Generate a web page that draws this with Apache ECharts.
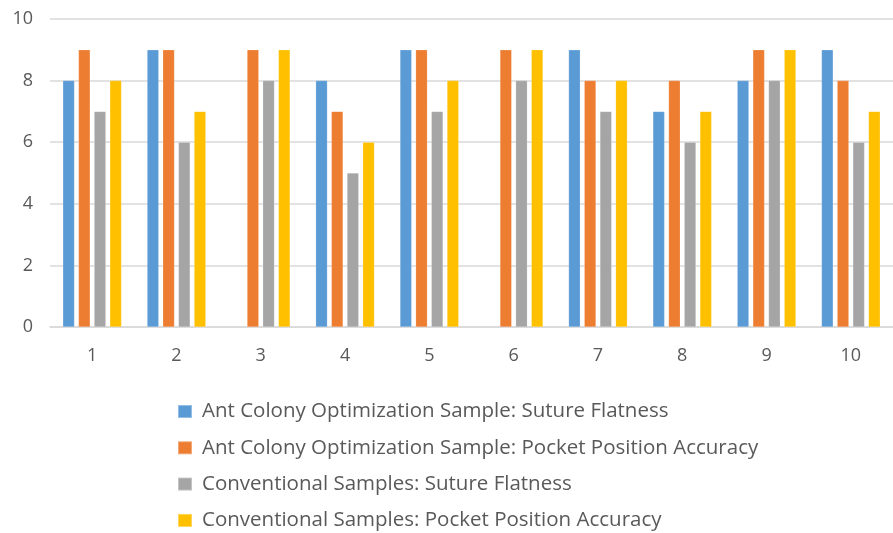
<!DOCTYPE html>
<html>
<head>
<meta charset="utf-8">
<script src="https://cdn.jsdelivr.net/npm/echarts@6/dist/echarts.min.js"></script>
<style>html,body{margin:0;padding:0;background:#fff}#c{width:893px;height:533px}</style>
</head>
<body>
<div id="c"></div>
<script>
var categories = ['1','2','3','4','5','6','7','8','9','10'];
var seriesNames = [
  'Ant Colony Optimization Sample: Suture Flatness',
  'Ant Colony Optimization Sample: Pocket Position Accuracy',
  'Conventional Samples: Suture Flatness',
  'Conventional Samples: Pocket Position Accuracy'
];
var acoFlatness   = [8, 9, null, 8, 9, null, 9, 7, 8, 9];
var acoPocket     = [9, 9, 9, 7, 9, 9, 8, 8, 9, 8];
var convFlatness  = [7, 6, 8, 5, 7, 8, 7, 6, 8, 6];
var convPocket    = [8, 7, 9, 6, 8, 9, 8, 7, 9, 7];
var colors = ['#5B9BD5', '#ED7D31', '#A5A5A5', '#FFC000'];
var allData = [acoFlatness, acoPocket, convFlatness, convPocket];

var font = 'Open Sans';
var chart = echarts.init(document.getElementById('c'));
chart.setOption({
  animation: false,
  color: colors,
  grid: { left: 50, top: 19, bottom: 206, right: -13, containLabel: false },
  xAxis: {
    type: 'category',
    data: categories,
    axisLine: { lineStyle: { color: '#D9D9D9', width: 1.5 } },
    axisTick: { show: false },
    axisLabel: { color: '#595959', fontSize: 18, fontFamily: font, margin: 20 }
  },
  yAxis: {
    type: 'value',
    min: 0, max: 10, interval: 2,
    axisLine: { show: false },
    axisTick: { show: false },
    splitLine: { lineStyle: { color: '#D9D9D9', width: 1.5 } },
    axisLabel: { color: '#595959', fontSize: 18, fontFamily: font, margin: 17 }
  },
  legend: {
    orient: 'vertical',
    left: 177, top: 401,
    height: 300, width: 700,
    padding: 0,
    itemWidth: 14, itemHeight: 13,
    itemGap: 15.3,
    icon: 'rect',
    textStyle: { color: '#595959', fontSize: 20.5, fontFamily: font, padding: [0, 0, 0, 5] },
    data: seriesNames
  },
  series: seriesNames.map(function (n, i) {
    return {
      name: n,
      type: 'bar',
      data: allData[i],
      barWidth: 11.7,
      barGap: '34%',
      itemStyle: { color: colors[i], borderColor: 'rgba(255,255,255,0.35)', borderWidth: 0.5 }
    };
  })
});
</script>
</body>
</html>
